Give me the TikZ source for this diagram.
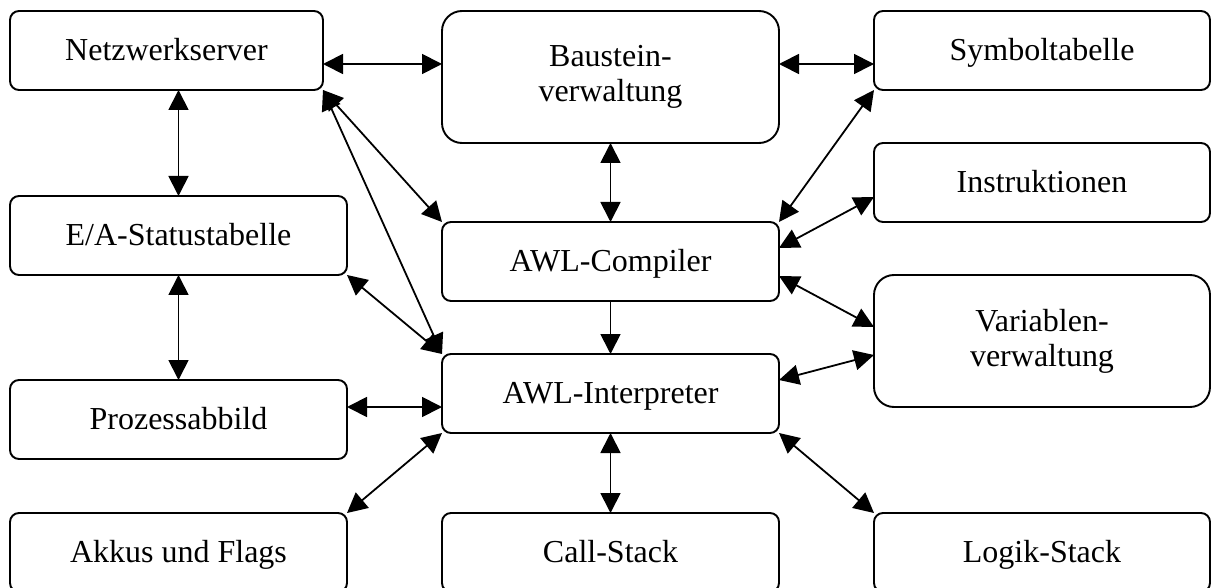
\documentclass[tikz,border=0pt]{standalone}
\usepackage{fontspec}
\setmainfont{Liberation Serif}
\usetikzlibrary{arrows.meta}
\begin{document}
\begin{tikzpicture}[x=1pt,y=-1pt,
  basebox/.style={draw, line width=1.9pt, inner sep=0pt, outer sep=0pt,
    align=center, font=\fontsize{32}{35}\selectfont},
  box/.style={basebox, rounded corners=9pt, text height=27pt, text depth=7pt},
  bigbox/.style={basebox, rounded corners=20pt},
  conn/.style={line width=1.8pt, {Triangle[length=20pt,width=20pt]}-{Triangle[length=20pt,width=20pt]}},
  oneway/.style={line width=1.8pt, -{Triangle[length=20pt,width=20pt]}}]
\useasboundingbox (0,0) rectangle (1211,588);
% boxes
\node[box, minimum width=313pt, minimum height=79pt] (net) at (166.5,50.5) {Netzwerkserver};
\node[bigbox, minimum width=337pt, minimum height=132pt] (bst) at (610.5,77) {Baustein-\\verwaltung};
\node[box, minimum width=336pt, minimum height=79pt] (sym) at (1042,50.5) {Symboltabelle};
\node[box, minimum width=336pt, minimum height=79pt] (ins) at (1042,182.5) {Instruktionen};
\node[box, minimum width=337pt, minimum height=79pt] (ea) at (178.5,235.5) {E/A-Statustabelle};
\node[box, minimum width=337pt, minimum height=79pt] (cmp) at (610.5,261.5) {AWL-Compiler};
\node[bigbox, minimum width=336pt, minimum height=132pt] (var) at (1042,341) {Variablen-\\verwaltung};
\node[box, minimum width=337pt, minimum height=79pt] (int) at (610.5,393.5) {AWL-Interpreter};
\node[box, minimum width=337pt, minimum height=79pt] (pa) at (178.5,419.5) {Prozessabbild};
\node[box, minimum width=337pt, minimum height=79pt] (akk) at (178.5,552.5) {Akkus und Flags};
\node[box, minimum width=337pt, minimum height=79pt] (call) at (610.5,552.5) {Call-Stack};
\node[box, minimum width=336pt, minimum height=79pt] (log) at (1042,552.5) {Logik-Stack};
% connectors
\draw[conn] ([yshift=-13.5pt]net.east) -- ([yshift=13pt]bst.west);
\draw[conn] ([yshift=13pt]bst.east) -- ([yshift=-13.5pt]sym.west);
\draw[conn] (ea.north |- net.south) -- (ea.north);
\draw[conn] (ea.south) -- (pa.north);
\draw[conn] (bst.south) -- (cmp.north);
\draw[oneway] (cmp.south) -- (int.north);
\draw[conn] (int.south) -- (call.north);
\draw[conn] (sym.south west) -- (cmp.north east);
\draw[conn] ([yshift=13.5pt]cmp.east) -- ([yshift=-14.5pt]ins.west);
\draw[conn] ([yshift=-14.5pt]cmp.east) -- ([yshift=14pt]var.west);
\draw[conn] ([yshift=13.5pt]int.east) -- ([yshift=-14pt]var.west);
\draw[conn] (int.south east) -- (log.north west);
\draw[conn] (net.south east) -- (cmp.north west);
\draw[conn] (net.south east) -- (int.north west);
\draw[conn] (ea.south east) -- (int.north west);
\draw[conn] ([yshift=12.5pt]pa.east) -- ([yshift=-13.5pt]int.west);
\draw[conn] (akk.north east) -- (int.south west);
\end{tikzpicture}
\end{document}
